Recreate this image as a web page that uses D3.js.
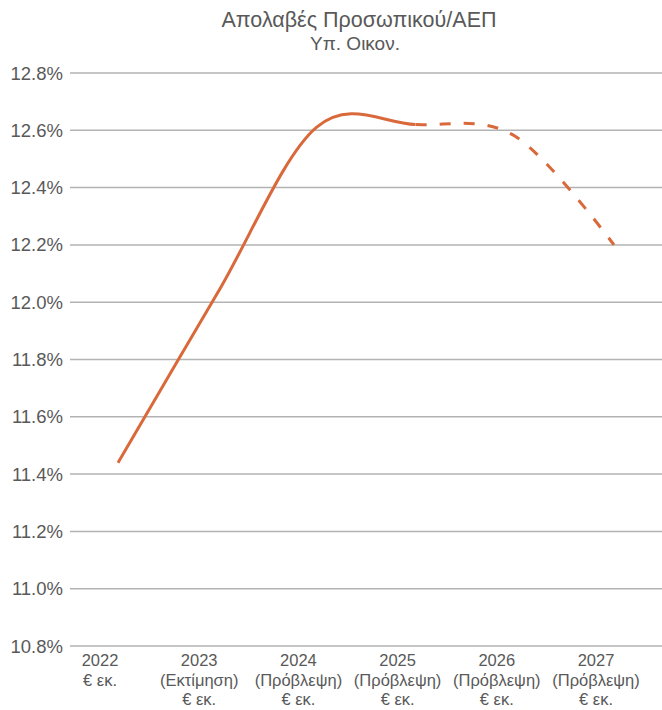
<!DOCTYPE html>
<html>
<head>
<meta charset="utf-8">
<script src="https://cdn.jsdelivr.net/npm/d3@7"></script>
<style>
  html, body { margin: 0; padding: 0; background: #fff; }
  svg { display: block; }
  text { font-family: "Liberation Sans", Arial, sans-serif; fill: #595959; }
</style>
</head>
<body>
<svg id="chart" width="662" height="710"></svg>
<script>
// Series: compensation of employees as % of GDP
const years = ["2022", "2023", "2024", "2025", "2026", "2027"];
const values = [11.44, 12.03, 12.61, 12.62, 12.58, 12.20];
// Second line of each category label (estimate / forecast), then the unit line
const notes = ["", "(Εκτίμηση)", "(Πρόβλεψη)", "(Πρόβλεψη)", "(Πρόβλεψη)", "(Πρόβλεψη)"];
const unitLabel = "€ εκ.";
const yTicks = [10.8, 11.0, 11.2, 11.4, 11.6, 11.8, 12.0, 12.2, 12.4, 12.6, 12.8];
const title = "Απολαβές Προσωπικού/ΑΕΠ";
const subtitle = "Υπ. Οικον.";
const forecastFrom = "2025"; // dashed from this year onward

const svg = d3.select("#chart");
const W = 662;

const x = d3.scalePoint().domain(years).range([118, 614]);
const y = d3.scaleLinear().domain([10.8, 12.8]).range([646, 73]);

// Titles
svg.append("text").attr("x", 359).attr("y", 27).attr("text-anchor", "middle")
  .style("font-size", "21.5px").text(title);
svg.append("text").attr("x", 355).attr("y", 50).attr("text-anchor", "middle")
  .style("font-size", "19px").text(subtitle);

// Horizontal gridlines
svg.append("g").selectAll("line").data(yTicks).join("line")
  .attr("x1", 70).attr("x2", W)
  .attr("y1", d => y(d)).attr("y2", d => y(d))
  .attr("stroke", "#b3b3b3").attr("stroke-width", 1.5);

// Y axis labels
svg.append("g").selectAll("text").data(yTicks).join("text")
  .attr("x", 63).attr("y", d => y(d) + 6.5)
  .attr("text-anchor", "end")
  .style("font-size", "18.5px")
  .text(d => d3.format(".1f")(d) + "%");

// X axis labels (multi-line)
const xl = svg.append("g").selectAll("text").data(years).join("text")
  .attr("text-anchor", "middle")
  .style("font-size", "16.5px")
  .attr("transform", d => `translate(${x(d) - 18},0)`);
xl.each(function (d, i) {
  const t = d3.select(this);
  const lines = notes[i] ? [d, notes[i], unitLabel] : [d, unitLabel];
  lines.forEach((s, k) => t.append("tspan").attr("x", 0).attr("y", 666 + k * 19.5).text(s));
});

// Smooth line through all points
const pts = years.map((d, i) => [x(d), y(values[i])]);
const lineGen = d3.line().curve(d3.curveCardinal.tension(0));
const pathD = lineGen(pts);

const defs = svg.append("defs");
const xSplit = x(forecastFrom);
defs.append("clipPath").attr("id", "clipActual").append("rect")
  .attr("x", 0).attr("y", 0).attr("width", xSplit).attr("height", 710);
defs.append("clipPath").attr("id", "clipForecast").append("rect")
  .attr("x", xSplit).attr("y", 0).attr("width", W - xSplit).attr("height", 710);

const color = "#d9693a";
svg.append("path").attr("d", pathD).attr("fill", "none")
  .attr("stroke", color).attr("stroke-width", 3)
  .attr("clip-path", "url(#clipActual)");

const dashed = svg.append("path").attr("d", pathD).attr("fill", "none")
  .attr("stroke", color).attr("stroke-width", 3)
  .attr("stroke-dasharray", "11,13")
  .attr("clip-path", "url(#clipForecast)");

// Start the dash pattern exactly at the forecast point
const node = dashed.node();
const total = node.getTotalLength();
let lo = 0, hi = total;
for (let k = 0; k < 40; k++) {
  const mid = (lo + hi) / 2;
  if (node.getPointAtLength(mid).x < xSplit) lo = mid; else hi = mid;
}
dashed.attr("stroke-dashoffset", -lo);
</script>
</body>
</html>
